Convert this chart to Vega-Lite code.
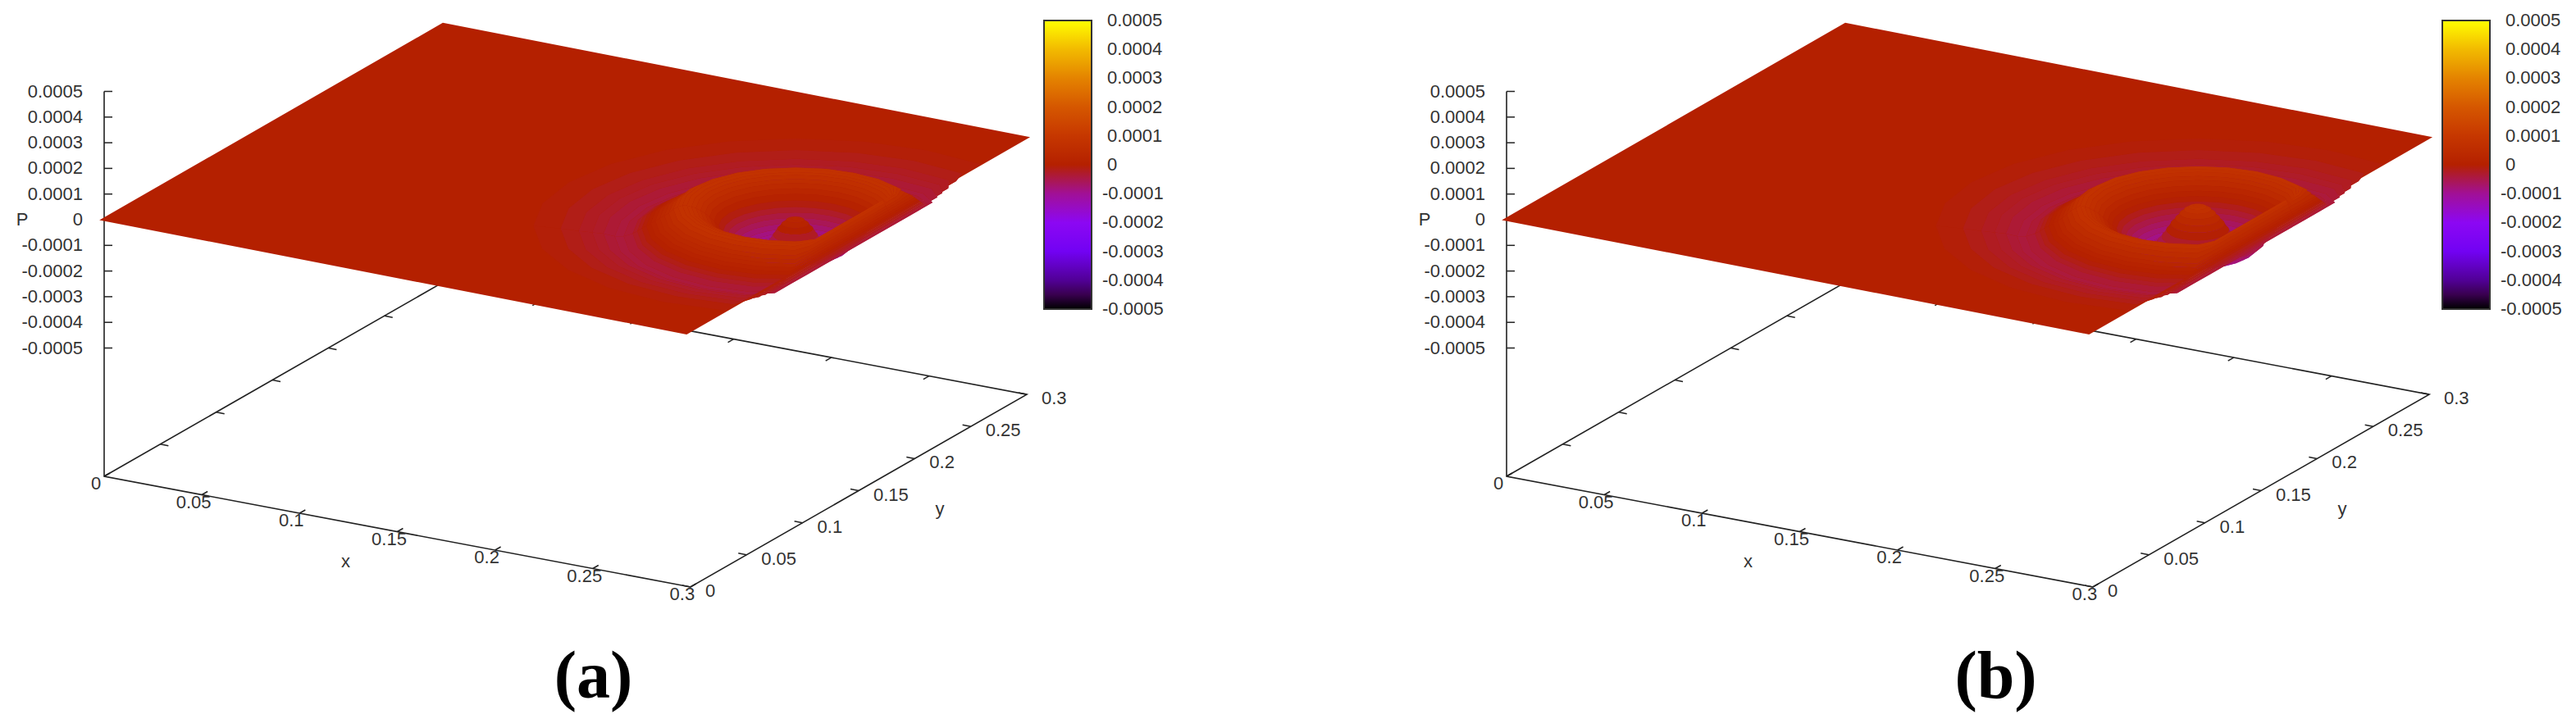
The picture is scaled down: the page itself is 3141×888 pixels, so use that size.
{
  "$schema": "https://vega.github.io/schema/vega-lite/v6.json",
  "padding": 0,
  "spacing": 1,
  "background": "white",
  "resolve": {"scale": {"color": "independent"}, "legend": {"color": "independent"}},
  "config": {
    "view": {"stroke": null},
    "text": {"font": "Liberation Sans", "fontSize": 22, "color": "#333"}
  },
  "datasets": {
    "ringsA": [
      {"b":0,"r":0,"P":0.00003},{"b":1,"r":0.002,"P":0.00003},{"b":2,"r":0.004,"P":0.000025},{"b":3,"r":0.006,"P":0.00001},{"b":4,"r":0.008,"P":-0.00001},{"b":5,"r":0.01,"P":-0.000035},
      {"b":6,"r":0.012,"P":-0.00006},{"b":7,"r":0.014,"P":-0.00008},{"b":8,"r":0.016,"P":-0.00009},{"b":9,"r":0.018,"P":-0.000095},{"b":10,"r":0.02,"P":-0.000095},{"b":11,"r":0.022,"P":-0.00009},
      {"b":12,"r":0.024,"P":-0.00008},{"b":13,"r":0.026,"P":-0.000065},{"b":14,"r":0.028,"P":-0.00005},{"b":15,"r":0.03,"P":-0.000035},{"b":16,"r":0.032,"P":-0.00002},{"b":17,"r":0.034,"P":0},
      {"b":18,"r":0.036,"P":0.00002},{"b":19,"r":0.038,"P":0.000035},{"b":20,"r":0.04,"P":0.00005},{"b":21,"r":0.042,"P":0.00006},{"b":22,"r":0.044,"P":0.00007},{"b":23,"r":0.046,"P":0.000075},
      {"b":24,"r":0.048,"P":0.00008},{"b":25,"r":0.05,"P":0.00008},{"b":26,"r":0.052,"P":0.000075},{"b":27,"r":0.054,"P":0.000065},{"b":28,"r":0.056,"P":0.00005},{"b":29,"r":0.058,"P":0.00004},
      {"b":30,"r":0.06,"P":0.00003},{"b":31,"r":0.062,"P":0.00002},{"b":32,"r":0.064,"P":0.00001},{"b":33,"r":0.066,"P":0},{"b":34,"r":0.068,"P":-0.00001},{"b":35,"r":0.07,"P":-0.00002},
      {"b":36,"r":0.072,"P":-0.00003},{"b":37,"r":0.076,"P":-0.00004},{"b":38,"r":0.08,"P":-0.00004},{"b":39,"r":0.085,"P":-0.00003},{"b":40,"r":0.09,"P":-0.000025},{"b":41,"r":0.096,"P":-0.00002},
      {"b":42,"r":0.104,"P":-0.00001},{"b":43,"r":0.116,"P":0}
    ],
    "ringsB": [
      {"b":0,"r":0,"P":0.00008},{"b":1,"r":0.002,"P":0.00008},{"b":2,"r":0.004,"P":0.000075},{"b":3,"r":0.006,"P":0.000065},{"b":4,"r":0.008,"P":0.00005},{"b":5,"r":0.01,"P":0.00003},
      {"b":6,"r":0.012,"P":0.00001},{"b":7,"r":0.014,"P":-0.000015},{"b":8,"r":0.016,"P":-0.00004},{"b":9,"r":0.018,"P":-0.00006},{"b":10,"r":0.02,"P":-0.00008},{"b":11,"r":0.022,"P":-0.00009},
      {"b":12,"r":0.024,"P":-0.000095},{"b":13,"r":0.026,"P":-0.000085},{"b":14,"r":0.028,"P":-0.00007},{"b":15,"r":0.03,"P":-0.000055},{"b":16,"r":0.032,"P":-0.00004},{"b":17,"r":0.034,"P":-0.000025},
      {"b":18,"r":0.036,"P":-0.00001},{"b":19,"r":0.038,"P":0.000005},{"b":20,"r":0.04,"P":0.00002},{"b":21,"r":0.042,"P":0.000035},{"b":22,"r":0.044,"P":0.00005},{"b":23,"r":0.046,"P":0.00006},
      {"b":24,"r":0.048,"P":0.00007},{"b":25,"r":0.05,"P":0.000075},{"b":26,"r":0.052,"P":0.00008},{"b":27,"r":0.054,"P":0.00007},{"b":28,"r":0.056,"P":0.00006},{"b":29,"r":0.058,"P":0.000045},
      {"b":30,"r":0.06,"P":0.00003},{"b":31,"r":0.062,"P":0.00002},{"b":32,"r":0.064,"P":0.00001},{"b":33,"r":0.066,"P":0},{"b":34,"r":0.068,"P":-0.00001},{"b":35,"r":0.07,"P":-0.00002},
      {"b":36,"r":0.072,"P":-0.00003},{"b":37,"r":0.076,"P":-0.00004},{"b":38,"r":0.08,"P":-0.00004},{"b":39,"r":0.085,"P":-0.00003},{"b":40,"r":0.09,"P":-0.000025},{"b":41,"r":0.096,"P":-0.00002},
      {"b":42,"r":0.104,"P":-0.00001},{"b":43,"r":0.116,"P":0}
    ],
    "draw": [
      {"b":43,"h":0},{"b":42,"h":0},{"b":41,"h":0},{"b":40,"h":0},{"b":39,"h":0},{"b":38,"h":0},{"b":37,"h":0},{"b":36,"h":0},{"b":35,"h":0},{"b":34,"h":0},{"b":33,"h":0},{"b":32,"h":0},{"b":31,"h":0},{"b":30,"h":0},{"b":29,"h":0},{"b":28,"h":0},{"b":27,"h":0},{"b":26,"h":0},{"b":25,"h":0},{"b":24,"h":0},{"b":23,"h":0},{"b":22,"h":0},{"b":21,"h":0},{"b":20,"h":0},{"b":19,"h":0},{"b":18,"h":0},{"b":17,"h":0},{"b":16,"h":0},{"b":15,"h":0},{"b":14,"h":0},{"b":13,"h":0},{"b":12,"h":0},{"b":11,"h":0},{"b":10,"h":0},{"b":9,"h":0},{"b":8,"h":0},{"b":7,"h":0},{"b":6,"h":0},{"b":5,"h":0},{"b":4,"h":0},{"b":3,"h":0},{"b":2,"h":0},{"b":1,"h":0},
      {"b":1,"h":1},{"b":2,"h":1},{"b":3,"h":1},{"b":4,"h":1},{"b":5,"h":1},{"b":6,"h":1},{"b":7,"h":1},{"b":8,"h":1},{"b":9,"h":1},{"b":10,"h":1},{"b":11,"h":1},{"b":12,"h":1},{"b":13,"h":1},{"b":14,"h":1},{"b":15,"h":1},{"b":16,"h":1},{"b":17,"h":1},{"b":18,"h":1},{"b":19,"h":1},{"b":20,"h":1},{"b":21,"h":1},{"b":22,"h":1},{"b":23,"h":1},{"b":24,"h":1},{"b":25,"h":1},{"b":26,"h":1},{"b":27,"h":1},{"b":28,"h":1},{"b":29,"h":1},{"b":30,"h":1},{"b":31,"h":1},{"b":32,"h":1},{"b":33,"h":1},{"b":34,"h":1},{"b":35,"h":1},{"b":36,"h":1},{"b":37,"h":1},{"b":38,"h":1},{"b":39,"h":1},{"b":40,"h":1},{"b":41,"h":1},{"b":42,"h":1},{"b":43,"h":1}
    ],
    "sheet": [{"i":0,"x":0,"y":0},{"i":1,"x":0.3,"y":0},{"i":2,"x":0.3,"y":0.3},{"i":3,"x":0,"y":0.3}],
    "frame": [
      {"i":0,"x":0,"y":0,"P":0.0005},{"i":1,"x":0,"y":0,"P":-0.001},{"i":2,"x":0.3,"y":0,"P":-0.001},{"i":3,"x":0.3,"y":0.3,"P":-0.001},{"i":4,"x":0,"y":0.3,"P":-0.001},{"i":5,"x":0,"y":0,"P":-0.001}
    ],
    "ticks": [
      {"a":"x","x":0,"y":0,"P":-0.001,"l":"0"},{"a":"x","x":0.05,"y":0,"P":-0.001,"l":"0.05"},{"a":"x","x":0.1,"y":0,"P":-0.001,"l":"0.1"},{"a":"x","x":0.15,"y":0,"P":-0.001,"l":"0.15"},{"a":"x","x":0.2,"y":0,"P":-0.001,"l":"0.2"},{"a":"x","x":0.25,"y":0,"P":-0.001,"l":"0.25"},{"a":"x","x":0.3,"y":0,"P":-0.001,"l":"0.3"},
      {"a":"x2","x":0.05,"y":0.3,"P":-0.001},{"a":"x2","x":0.1,"y":0.3,"P":-0.001},{"a":"x2","x":0.15,"y":0.3,"P":-0.001},{"a":"x2","x":0.2,"y":0.3,"P":-0.001},{"a":"x2","x":0.25,"y":0.3,"P":-0.001},
      {"a":"y","x":0.3,"y":0,"P":-0.001,"l":"0"},{"a":"y","x":0.3,"y":0.05,"P":-0.001,"l":"0.05"},{"a":"y","x":0.3,"y":0.1,"P":-0.001,"l":"0.1"},{"a":"y","x":0.3,"y":0.15,"P":-0.001,"l":"0.15"},{"a":"y","x":0.3,"y":0.2,"P":-0.001,"l":"0.2"},{"a":"y","x":0.3,"y":0.25,"P":-0.001,"l":"0.25"},{"a":"y","x":0.3,"y":0.3,"P":-0.001,"l":"0.3"},
      {"a":"y2","x":0,"y":0.05,"P":-0.001},{"a":"y2","x":0,"y":0.1,"P":-0.001},{"a":"y2","x":0,"y":0.15,"P":-0.001},{"a":"y2","x":0,"y":0.2,"P":-0.001},{"a":"y2","x":0,"y":0.25,"P":-0.001},
      {"a":"z","x":0,"y":0,"P":0.0005,"l":"0.0005"},{"a":"z","x":0,"y":0,"P":0.0004,"l":"0.0004"},{"a":"z","x":0,"y":0,"P":0.0003,"l":"0.0003"},{"a":"z","x":0,"y":0,"P":0.0002,"l":"0.0002"},{"a":"z","x":0,"y":0,"P":0.0001,"l":"0.0001"},{"a":"z","x":0,"y":0,"P":0,"l":"0"},{"a":"z","x":0,"y":0,"P":-0.0001,"l":"-0.0001"},{"a":"z","x":0,"y":0,"P":-0.0002,"l":"-0.0002"},{"a":"z","x":0,"y":0,"P":-0.0003,"l":"-0.0003"},{"a":"z","x":0,"y":0,"P":-0.0004,"l":"-0.0004"},{"a":"z","x":0,"y":0,"P":-0.0005,"l":"-0.0005"},
      {"a":"xt","x":0.15,"y":0,"P":-0.001,"l":"x"},{"a":"yt","x":0.3,"y":0.15,"P":-0.001,"l":"y"},{"a":"zt","x":0,"y":0,"P":0,"l":"P"}
    ],
    "cbar": [{"v":0.0005,"l":"0.0005"},{"v":0.0004,"l":"0.0004"},{"v":0.0003,"l":"0.0003"},{"v":0.0002,"l":"0.0002"},{"v":0.0001,"l":"0.0001"},{"v":0,"l":"0"},{"v":-0.0001,"l":"-0.0001"},{"v":-0.0002,"l":"-0.0002"},{"v":-0.0003,"l":"-0.0003"},{"v":-0.0004,"l":"-0.0004"},{"v":-0.0005,"l":"-0.0005"}]
  },
  "hconcat": [
    {
      "width": 1570,
      "height": 888,
      "encoding": {
        "x": {"field":"sx","type":"quantitative","scale":{"domain":[0,1570],"nice":false,"zero":false},
          "axis":{"title":"(a)","domain":false,"ticks":false,"labels":false,"grid":false,"titleX":723,"titleY":-38,"titleAlign":"center","titleBaseline":"alphabetic","titleFont":"Liberation Serif","titleFontWeight":"bold","titleFontSize":82,"titleColor":"#000"}},
        "y": {"field":"sy","type":"quantitative","scale":{"domain":[888,0],"nice":false,"zero":false},"axis":null}
      },
      "layer": [
        {
          "data": {"name":"frame"},
          "transform": [
            {"calculate":"127+2383*datum.x+1367*datum.y","as":"sx"},
            {"calculate":"268+450*datum.x-783*datum.y-313000*datum.P","as":"sy"}
          ],
          "mark": {"type":"line","color":"#222","strokeWidth":1.6},
          "encoding": {"order":{"field":"i"}}
        },
        {
          "data": {"name":"ticks"},
          "transform": [
            {"calculate":"127+2383*datum.x+1367*datum.y","as":"sx"},
            {"calculate":"268+450*datum.x-783*datum.y-313000*datum.P","as":"sy"},
            {"calculate":"datum.sx+({x:7,x2:-7,y:-10,y2:10,z:10,xt:0,yt:0,zt:0})[datum.a]","as":"sx2"},
            {"calculate":"datum.sy+({x:-4,x2:4,y:-2,y2:2,z:0,xt:0,yt:0,zt:0})[datum.a]","as":"sy2"}
          ],
          "layer": [
            {"transform":[{"filter":"indexof(['xt','yt','zt'],datum.a)<0"}],"mark":{"type":"rule","color":"#222","strokeWidth":1.5},"encoding":{"x2":{"field":"sx2"},"y2":{"field":"sy2"}}},
            {"transform":[{"filter":"datum.a=='x'"}],"mark":{"type":"text","align":"center","dx":-10,"dy":9},"encoding":{"text":{"field":"l"}}},
            {"transform":[{"filter":"datum.a=='y'"}],"mark":{"type":"text","align":"left","dx":18,"dy":5},"encoding":{"text":{"field":"l"}}},
            {"transform":[{"filter":"datum.a=='z'"}],"mark":{"type":"text","align":"right","dx":-26},"encoding":{"text":{"field":"l"}}},
            {"transform":[{"filter":"datum.a=='xt'"}],"mark":{"type":"text","align":"center","dx":-63,"dy":36},"encoding":{"text":{"field":"l"}}},
            {"transform":[{"filter":"datum.a=='yt'"}],"mark":{"type":"text","align":"center","dx":99,"dy":22},"encoding":{"text":{"field":"l"}}},
            {"transform":[{"filter":"datum.a=='zt'"}],"mark":{"type":"text","align":"center","dx":-100},"encoding":{"text":{"field":"l"}}}
          ]
        },
        {
          "data": {"name":"sheet"},
          "transform": [
            {"calculate":"124+2377*datum.x+1387*datum.y","as":"sx"},
            {"calculate":"268+463*datum.x-797*datum.y","as":"sy"}
          ],
          "mark": {"type":"line","filled":true,"interpolate":"linear-closed","color":"#B42000","stroke":"#B42000","strokeWidth":2},
          "encoding": {"order":{"field":"i"}}
        },
        {
          "data": {"name":"draw"},
          "transform": [
            {"lookup":"b","from":{"data":{"name":"ringsA"},"key":"b","fields":["r","P"]}},
            {"calculate":"datum.b-1","as":"bi"},
            {"lookup":"bi","from":{"data":{"name":"ringsA"},"key":"b","fields":["r","P"]},"as":["r0","P0"]},
            {"calculate":"(datum.P+datum.P0)/2","as":"Pc"},
            {"calculate":"datum.b*2+datum.h","as":"id"},
            {"calculate":"[0,1,2,3,4,5,6,7,8,9,10,11,12,13,14,15,16,17,18,19,20,21,22,23,24,25]","as":"i"},
            {"flatten":["i"]},
            {"calculate":"(datum.h?-60:120)+(datum.i<13?15*datum.i-90:90-15*(datum.i-13))","as":"t"},
            {"calculate":"datum.i<13?datum.r:datum.r0","as":"rv"},
            {"calculate":"datum.i<13?datum.P:datum.P0","as":"Pv"},
            {"calculate":"min(0.3,0.27+datum.rv*cos(datum.t*PI/180))","as":"px"},
            {"calculate":"0.147+datum.rv*sin(datum.t*PI/180)","as":"py"},
            {"calculate":"124+2377*datum.px+1387*datum.py","as":"sx"},
            {"calculate":"268+463*datum.px-797*datum.py-313000*datum.Pv","as":"sy"}
          ],
          "mark": {"type":"line","filled":true,"interpolate":"linear-closed"},
          "encoding": {
            "detail": {"field":"id","type":"nominal"},
            "order": {"field":"i"},
            "color": {"field":"Pc","type":"quantitative",
              "scale":{"interpolate":"rgb","domain":[-0.0005,-0.00045,-0.0004,-0.0003,-0.0002,-0.0001,0,0.0001,0.0002,0.0003,0.0004,0.0005],"range":["#000000","#39004F","#510096","#7202F3","#8C07F3","#A11096","#B42000","#C63700","#D55700","#E48300","#F2BA00","#FFFF00"]},
              "legend":{"title":null,"orient":"none","legendX":1273,"legendY":25,"gradientLength":352,"gradientThickness":58,"gradientStrokeColor":"#333","gradientStrokeWidth":2,"labelExpr":"''"}}
          }
        },
        {
          "data": {"name":"cbar"},
          "transform": [{"calculate":"201-352000*datum.v","as":"sy"}],
          "layer": [
            {"transform":[{"filter":"abs(datum.v)<0.00045"},{"calculate":"1273","as":"sx"},{"calculate":"1284","as":"sx2"}],"mark":{"type":"rule","color":"#222","strokeWidth":1.5},"encoding":{"x2":{"field":"sx2"}}},
            {"transform":[{"filter":"abs(datum.v)<0.00045"},{"calculate":"1320","as":"sx"},{"calculate":"1331","as":"sx2"}],"mark":{"type":"rule","color":"#222","strokeWidth":1.5},"encoding":{"x2":{"field":"sx2"}}},
            {"transform":[{"calculate":"datum.v<0?1344:1350","as":"sx"}],"mark":{"type":"text","align":"left"},"encoding":{"text":{"field":"l"}}}
          ]
        }
      ]
    },
    {
      "width": 1570,
      "height": 888,
      "encoding": {
        "x": {"field":"sx","type":"quantitative","scale":{"domain":[-139,1431],"nice":false,"zero":false},
          "axis":{"title":"(b)","domain":false,"ticks":false,"labels":false,"grid":false,"titleX":862,"titleY":-38,"titleAlign":"center","titleBaseline":"alphabetic","titleFont":"Liberation Serif","titleFontWeight":"bold","titleFontSize":82,"titleColor":"#000"}},
        "y": {"field":"sy","type":"quantitative","scale":{"domain":[888,0],"nice":false,"zero":false},"axis":null}
      },
      "layer": [
        {
          "data": {"name":"frame"},
          "transform": [
            {"calculate":"127+2383*datum.x+1367*datum.y","as":"sx"},
            {"calculate":"268+450*datum.x-783*datum.y-313000*datum.P","as":"sy"}
          ],
          "mark": {"type":"line","color":"#222","strokeWidth":1.6},
          "encoding": {"order":{"field":"i"}}
        },
        {
          "data": {"name":"ticks"},
          "transform": [
            {"calculate":"127+2383*datum.x+1367*datum.y","as":"sx"},
            {"calculate":"268+450*datum.x-783*datum.y-313000*datum.P","as":"sy"},
            {"calculate":"datum.sx+({x:7,x2:-7,y:-10,y2:10,z:10,xt:0,yt:0,zt:0})[datum.a]","as":"sx2"},
            {"calculate":"datum.sy+({x:-4,x2:4,y:-2,y2:2,z:0,xt:0,yt:0,zt:0})[datum.a]","as":"sy2"}
          ],
          "layer": [
            {"transform":[{"filter":"indexof(['xt','yt','zt'],datum.a)<0"}],"mark":{"type":"rule","color":"#222","strokeWidth":1.5},"encoding":{"x2":{"field":"sx2"},"y2":{"field":"sy2"}}},
            {"transform":[{"filter":"datum.a=='x'"}],"mark":{"type":"text","align":"center","dx":-10,"dy":9},"encoding":{"text":{"field":"l"}}},
            {"transform":[{"filter":"datum.a=='y'"}],"mark":{"type":"text","align":"left","dx":18,"dy":5},"encoding":{"text":{"field":"l"}}},
            {"transform":[{"filter":"datum.a=='z'"}],"mark":{"type":"text","align":"right","dx":-26},"encoding":{"text":{"field":"l"}}},
            {"transform":[{"filter":"datum.a=='xt'"}],"mark":{"type":"text","align":"center","dx":-63,"dy":36},"encoding":{"text":{"field":"l"}}},
            {"transform":[{"filter":"datum.a=='yt'"}],"mark":{"type":"text","align":"center","dx":99,"dy":22},"encoding":{"text":{"field":"l"}}},
            {"transform":[{"filter":"datum.a=='zt'"}],"mark":{"type":"text","align":"center","dx":-100},"encoding":{"text":{"field":"l"}}}
          ]
        },
        {
          "data": {"name":"sheet"},
          "transform": [
            {"calculate":"124+2377*datum.x+1387*datum.y","as":"sx"},
            {"calculate":"268+463*datum.x-797*datum.y","as":"sy"}
          ],
          "mark": {"type":"line","filled":true,"interpolate":"linear-closed","color":"#B42000","stroke":"#B42000","strokeWidth":2},
          "encoding": {"order":{"field":"i"}}
        },
        {
          "data": {"name":"draw"},
          "transform": [
            {"lookup":"b","from":{"data":{"name":"ringsB"},"key":"b","fields":["r","P"]}},
            {"calculate":"datum.b-1","as":"bi"},
            {"lookup":"bi","from":{"data":{"name":"ringsB"},"key":"b","fields":["r","P"]},"as":["r0","P0"]},
            {"calculate":"(datum.P+datum.P0)/2","as":"Pc"},
            {"calculate":"datum.b*2+datum.h","as":"id"},
            {"calculate":"[0,1,2,3,4,5,6,7,8,9,10,11,12,13,14,15,16,17,18,19,20,21,22,23,24,25]","as":"i"},
            {"flatten":["i"]},
            {"calculate":"(datum.h?-60:120)+(datum.i<13?15*datum.i-90:90-15*(datum.i-13))","as":"t"},
            {"calculate":"datum.i<13?datum.r:datum.r0","as":"rv"},
            {"calculate":"datum.i<13?datum.P:datum.P0","as":"Pv"},
            {"calculate":"min(0.3,0.27+datum.rv*cos(datum.t*PI/180))","as":"px"},
            {"calculate":"0.147+datum.rv*sin(datum.t*PI/180)","as":"py"},
            {"calculate":"124+2377*datum.px+1387*datum.py","as":"sx"},
            {"calculate":"268+463*datum.px-797*datum.py-313000*datum.Pv","as":"sy"}
          ],
          "mark": {"type":"line","filled":true,"interpolate":"linear-closed"},
          "encoding": {
            "detail": {"field":"id","type":"nominal"},
            "order": {"field":"i"},
            "color": {"field":"Pc","type":"quantitative",
              "scale":{"interpolate":"rgb","domain":[-0.0005,-0.00045,-0.0004,-0.0003,-0.0002,-0.0001,0,0.0001,0.0002,0.0003,0.0004,0.0005],"range":["#000000","#39004F","#510096","#7202F3","#8C07F3","#A11096","#B42000","#C63700","#D55700","#E48300","#F2BA00","#FFFF00"]},
              "legend":{"title":null,"orient":"none","legendX":1407,"legendY":25,"gradientLength":352,"gradientThickness":58,"gradientStrokeColor":"#333","gradientStrokeWidth":2,"labelExpr":"''"}}
          }
        },
        {
          "data": {"name":"cbar"},
          "transform": [{"calculate":"201-352000*datum.v","as":"sy"}],
          "layer": [
            {"transform":[{"filter":"abs(datum.v)<0.00045"},{"calculate":"1268","as":"sx"},{"calculate":"1279","as":"sx2"}],"mark":{"type":"rule","color":"#222","strokeWidth":1.5},"encoding":{"x2":{"field":"sx2"}}},
            {"transform":[{"filter":"abs(datum.v)<0.00045"},{"calculate":"1315","as":"sx"},{"calculate":"1326","as":"sx2"}],"mark":{"type":"rule","color":"#222","strokeWidth":1.5},"encoding":{"x2":{"field":"sx2"}}},
            {"transform":[{"calculate":"datum.v<0?1339:1345","as":"sx"}],"mark":{"type":"text","align":"left"},"encoding":{"text":{"field":"l"}}}
          ]
        }
      ]
    }
  ]
}
